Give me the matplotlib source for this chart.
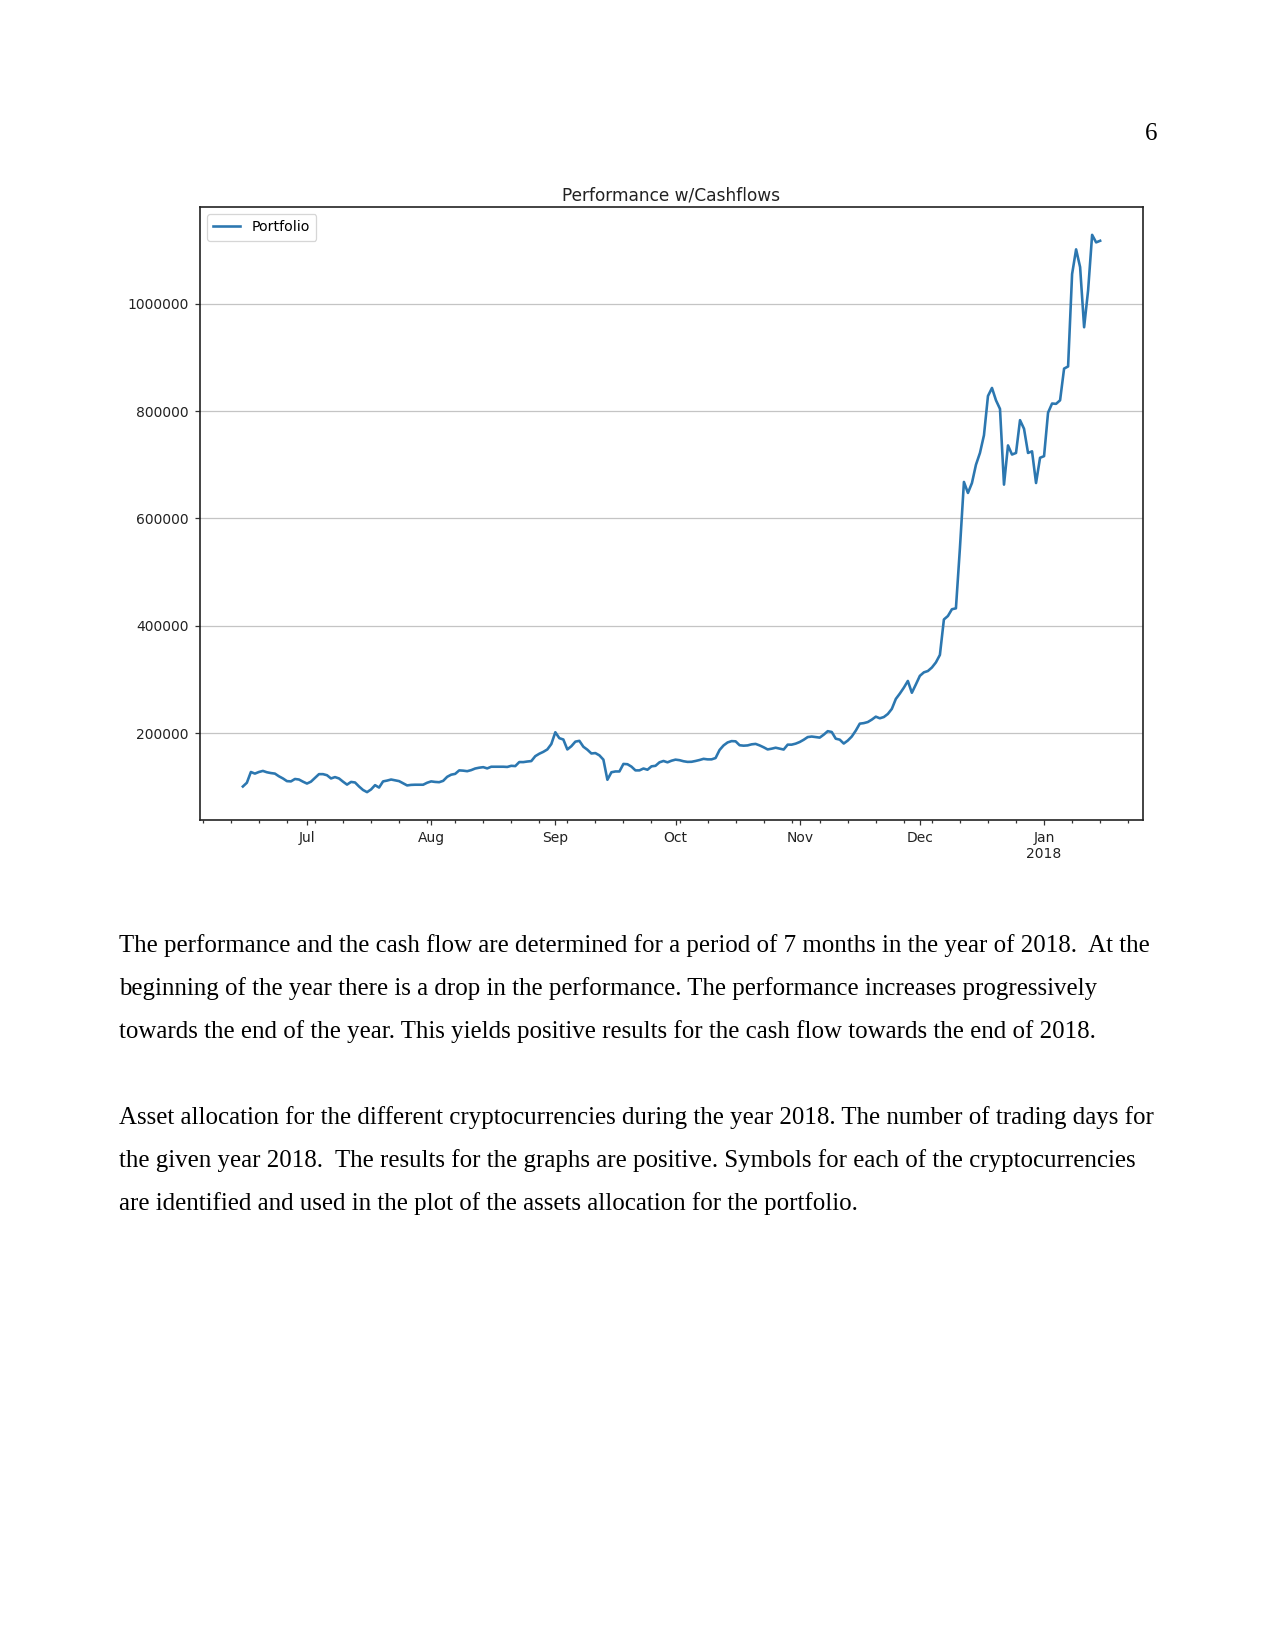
import matplotlib
matplotlib.use("Agg")
import matplotlib.pyplot as plt
import matplotlib.dates as mdates
import matplotlib.ticker as mticker
import pandas as pd

# daily portfolio value, 2017-06-15 .. 2018-01-15
start_date = "2017-06-15"
portfolio = [
    101000, 108000, 128000, 125000, 128000, 130000, 127500, 126000, 125000, 120000,
    116000, 111000, 110500, 115000, 114000, 110000, 106500, 110000, 117000, 124000,
    124000, 122000, 116000, 118500, 116000, 110000, 104500, 109500, 108500, 101000,
    94500, 90500, 95500, 103500, 99000, 110500, 112000, 114000, 112500, 111000,
    107000, 103000, 104000, 104300, 104300, 104300, 108000, 110500, 109500, 109000,
    111500, 119000, 123000, 124500, 131000, 130500, 129500, 131500, 134500, 136000,
    137000, 134700, 137800, 137800, 137800, 137800, 137400, 139500, 139000, 146500,
    146400, 147500, 148300, 157500, 162000, 165500, 170000, 180000, 202000, 191000,
    188500, 170000, 176000, 184500, 186000, 175000, 169500, 162500, 163200, 159000,
    151000, 113500, 127500, 129000, 129000, 143000, 142500, 138000, 131000, 131000,
    134500, 132200, 138500, 139500, 146000, 148500, 146000, 149000, 151000, 150000,
    148000, 146800, 147000, 148500, 150300, 152500, 151500, 151500, 154000, 169000,
    177500, 183000, 185500, 185100, 177800, 177000, 177500, 179500, 180300, 177500,
    174000, 170000, 171400, 173200, 171400, 169800, 178900, 178900, 180800, 183800,
    188000, 193000, 194000, 193100, 192000, 197500, 204000, 202500, 190000, 188200,
    181000, 186500, 194000, 205000, 218000, 219000, 221000, 225500, 231000, 228000,
    230300, 236000, 245500, 264000, 274000, 285000, 297500, 275500, 291000, 307000,
    313500, 316000, 322500, 332000, 346000, 412000, 418400, 431000, 432700, 545000,
    668000, 647500, 666000, 700000, 722000, 755000, 828000, 843000, 820000, 804000,
    663000, 736000, 719000, 722000, 783000, 767000, 722000, 725000, 666000, 713000,
    716000, 797000, 814000, 813400, 820000, 879000, 883000, 1055000, 1101000, 1068000,
    956000, 1025000, 1128000, 1114000, 1117000,
]
dates = pd.date_range(start_date, periods=len(portfolio), freq="D")

chart_title = "Performance w/Cashflows"
series_label = "Portfolio"
y_ticks = [200000, 400000, 600000, 800000, 1000000]

page_number = "6"
paragraph_lines = [
    "The performance and the cash flow are determined for a period of 7 months in the year of 2018.  At the",
    "beginning of the year there is a drop in the performance. The performance increases progressively",
    "towards the end of the year. This yields positive results for the cash flow towards the end of 2018.",
    "",
    "Asset allocation for the different cryptocurrencies during the year 2018. The number of trading days for",
    "the given year 2018.  The results for the graphs are positive. Symbols for each of the cryptocurrencies",
    "are identified and used in the plot of the assets allocation for the portfolio.",
]

W, H = 1275, 1650
fig = plt.figure(figsize=(W / 150, H / 150), dpi=150)
fig.patch.set_facecolor("white")

# chart (a screenshot of a pandas plot pasted into the page)
ax = fig.add_axes([200 / W, 1 - 820 / H, 943 / W, 613 / H])
ax.plot(dates, portfolio, color="#2c77b0", lw=1.25, label=series_label)
ax.set_title(chart_title, fontsize=8.2, family="DejaVu Sans", pad=3, color="#222222")

ax.yaxis.set_major_locator(mticker.FixedLocator(y_ticks))
ax.yaxis.set_major_formatter(mticker.StrMethodFormatter("{x:.0f}"))
ax.yaxis.grid(True, color="#c4c4c4", lw=0.6)
ax.set_axisbelow(True)


def month_label(x, pos=None):
    d = mdates.num2date(x)
    if d.month == 1:
        return d.strftime("%b\n%Y")
    return d.strftime("%b")


ax.xaxis.set_major_locator(mdates.MonthLocator())
ax.xaxis.set_major_formatter(mticker.FuncFormatter(month_label))
ax.xaxis.set_minor_locator(mdates.WeekdayLocator(byweekday=mdates.MO))

ax.tick_params(axis="both", which="major", labelsize=6.7, length=2.4, width=0.6,
               colors="#333333", labelcolor="#222222", pad=3)
ax.tick_params(axis="x", which="minor", length=1.4, width=0.6, colors="#333333")
for s in ax.spines.values():
    s.set_linewidth(0.8)
    s.set_color("#222222")

leg = ax.legend(loc="upper left", fontsize=6.8, frameon=True, fancybox=True,
                handlelength=1.9, borderpad=0.45)
leg.get_frame().set_edgecolor("#cccccc")
leg.get_frame().set_linewidth(0.6)

# page text
serif = ["Liberation Serif", "DejaVu Serif"]
fig.text(1157 / W, 1 - 140 / H, page_number, family=serif, fontsize=12,
         ha="right", va="baseline")

baselines = [952, 995, 1038, 1081, 1124, 1167, 1210]
for line, yb in zip(paragraph_lines, baselines):
    if line:
        fig.text(119 / W, 1 - yb / H, line, family=serif, fontsize=11.95,
                 ha="left", va="baseline")

fig.savefig("out.png", dpi=150, facecolor="white")
